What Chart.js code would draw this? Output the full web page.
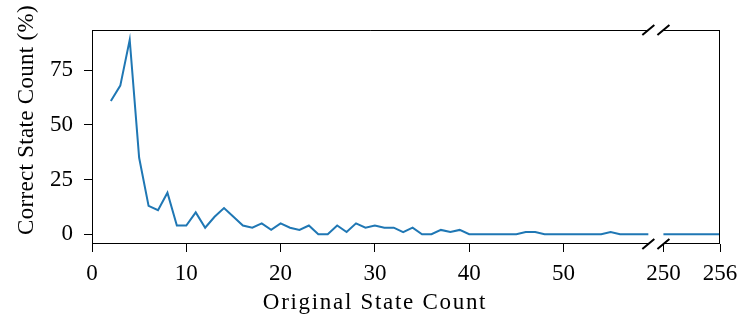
<!DOCTYPE html>
<html>
<head>
<meta charset="utf-8">
<script src="https://cdn.jsdelivr.net/npm/chart.js@4"></script>
<style>
  html, body { margin: 0; padding: 0; background: #fff; }
  #wrap { width: 741px; height: 324px; }
</style>
</head>
<body>
<div id="wrap"><canvas id="chart" width="741" height="324"></canvas></div>
<script>
// datos del panel izquierdo (2..59)
const leftX = [2, 3, 4, 5, 6, 7, 8, 9, 10, 11, 12, 13, 14, 15, 16, 17, 18, 19, 20,
  21, 22, 23, 24, 25, 26, 27, 28, 29, 30, 31, 32, 33, 34, 35, 36, 37, 38, 39, 40,
  41, 42, 43, 44, 45, 46, 47, 48, 49, 50, 51, 52, 53, 54, 55, 56, 57, 58, 59];
const leftY = [61, 68, 89, 35, 13, 11, 19, 4, 4, 10, 3, 8, 12, 8, 4, 3, 5, 2, 5,
  3, 2, 4, 0, 0, 4, 1, 5, 3, 4, 3, 3, 1, 3, 0, 0, 2, 1, 2, 0,
  0, 0, 0, 0, 0, 1, 1, 0, 0, 0, 0, 0, 0, 0, 1, 0, 0, 0, 0];
// panel derecho (250..256)
const rightX = [250, 251, 252, 253, 254, 255, 256];
const rightY = [0, 0, 0, 0, 0, 0, 0];

const xTicks = [0, 10, 20, 30, 40, 50, 250, 256];
const yTicks = [0, 25, 50, 75];

const xTitle = 'Original State Count';
const yTitle = 'Correct State Count (%)';

const LEFT_MAX = 59;
const RIGHT_MIN = 250;
const RIGHT_MAX = 256;
const GAP = 1.6;

// eje x partido: se comprime el hueco 59..250
function mapX(x) {
  return x <= LEFT_MAX ? x : x - RIGHT_MIN + LEFT_MAX + GAP;
}

const FONT = "'Liberation Serif', serif";
const blue = '#1f77b4';

// marcos, marcas de corte y titulos
const spines = {
  id: 'spines',
  afterDraw(chart) {
    const { ctx, chartArea } = chart;
    const xs = chart.scales.x;
    const l = chartArea.left, r = chartArea.right, t = chartArea.top, b = chartArea.bottom;
    const brk1 = xs.getPixelForValue(LEFT_MAX);
    const brk2 = xs.getPixelForValue(mapX(RIGHT_MIN));
    ctx.save();
    ctx.strokeStyle = '#000';
    ctx.lineWidth = 1;
    ctx.beginPath();
    ctx.moveTo(l + 0.5, t); ctx.lineTo(l + 0.5, b);
    ctx.moveTo(r - 0.5, t); ctx.lineTo(r - 0.5, b);
    [t + 0.5, b - 0.5].forEach(y => {
      ctx.moveTo(l, y); ctx.lineTo(brk1, y);
      ctx.moveTo(brk2, y); ctx.lineTo(r, y);
    });
    ctx.stroke();
    ctx.lineWidth = 2;
    ctx.beginPath();
    [brk1, brk2].forEach(x => {
      [t, b].forEach(y => {
        ctx.moveTo(x - 6, y + 5);
        ctx.lineTo(x + 6, y - 5);
      });
    });
    ctx.stroke();

    ctx.fillStyle = '#000';
    ctx.font = '23px ' + FONT;
    ctx.textAlign = 'center';
    ctx.textBaseline = 'middle';
    ctx.letterSpacing = '1.7px';
    ctx.fillText(xTitle, 375, 303);

    ctx.letterSpacing = '0.3px';
    ctx.translate(27, 120);
    ctx.rotate(-Math.PI / 2);
    ctx.fillText(yTitle, 0, 0);
    ctx.restore();
  }
};

const ctx = document.getElementById('chart').getContext('2d');
new Chart(ctx, {
  type: 'line',
  data: {
    datasets: [{
      data: leftX.map((x, i) => ({ x: mapX(x), y: leftY[i] })),
      borderColor: blue,
      borderWidth: 2,
      pointRadius: 0,
      tension: 0
    }, {
      data: rightX.map((x, i) => ({ x: mapX(x), y: rightY[i] })),
      borderColor: blue,
      borderWidth: 2,
      pointRadius: 0,
      tension: 0
    }]
  },
  options: {
    responsive: false,
    animation: false,
    layout: { padding: { top: 30, right: 21, left: 0, bottom: 0 } },
    plugins: { legend: { display: false }, tooltip: { enabled: false } },
    scales: {
      x: {
        type: 'linear',
        min: 0,
        max: mapX(RIGHT_MAX),
        afterBuildTicks: s => { s.ticks = xTicks.map(v => ({ value: mapX(v) })); },
        afterFit: s => { s.height = 80; s.paddingLeft = 0; s.paddingRight = 0; },
        ticks: {
          callback: (v, i) => String(xTicks[i]),
          color: '#000',
          font: { family: FONT, size: 23 },
          maxRotation: 0,
          autoSkip: false,
          padding: 8
        },
        grid: { drawOnChartArea: false, color: '#000', tickLength: 8 },
        border: { display: false }
      },
      y: {
        min: -4.45,
        max: 93.45,
        afterBuildTicks: s => { s.ticks = yTicks.map(v => ({ value: v })); },
        afterFit: s => { s.width = 92; s.paddingTop = 0; s.paddingBottom = 0; },
        ticks: {
          color: '#000',
          font: { family: FONT, size: 23 },
          padding: 11
        },
        grid: { drawOnChartArea: false, color: '#000', tickLength: 8 },
        border: { display: false }
      }
    }
  },
  plugins: [spines]
});
</script>
</body>
</html>
